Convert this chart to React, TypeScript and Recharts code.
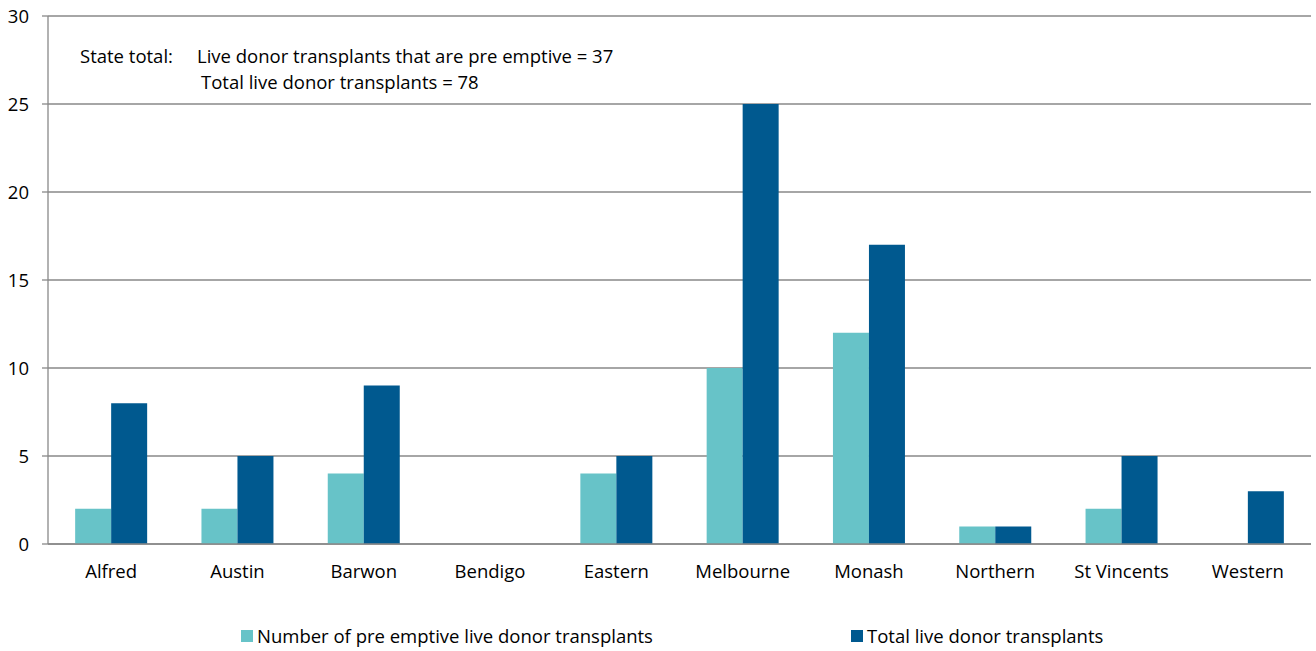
import React from 'react';
import { BarChart, Bar, XAxis, YAxis, CartesianGrid, Legend } from 'recharts';

const categories = ['Alfred', 'Austin', 'Barwon', 'Bendigo', 'Eastern', 'Melbourne', 'Monash', 'Northern', 'St Vincents', 'Western'];
const preEmptive = [2, 2, 4, 0, 4, 10, 12, 1, 2, 0];
const totalLive = [8, 5, 9, 0, 5, 25, 17, 1, 5, 3];
const yTicks = [0, 5, 10, 15, 20, 25, 30];
const edgeTicks = [0, 1, 2, 3, 4, 5, 6, 7, 8, 9, 10];

const data = categories.map((c, i) => ({ name: c, pre: preEmptive[i], total: totalLive[i], idx: i + 0.5 }));

const FONT = '"Open Sans", sans-serif';
const FS = 18.5;
const LIGHT = '#67C3C8';
const DARK = '#00598F';
const GRID = '#898989';

const legendItems = [
  { label: 'Number of pre emptive live donor transplants', color: LIGHT, left: 241 },
  { label: 'Total live donor transplants', color: DARK, left: 851 },
];

const LegendContent = () => (
  <div style={{ position: 'relative', width: 1316, height: 30, fontFamily: FONT, fontSize: FS, color: '#000' }}>
    {legendItems.map((it) => (
      <div key={it.label} style={{ position: 'absolute', left: it.left, top: 0, display: 'flex', alignItems: 'center', whiteSpace: 'nowrap', lineHeight: '22px' }}>
        <span style={{ display: 'inline-block', width: 12, height: 12, background: it.color, marginRight: 4 }} />
        <span>{it.label}</span>
      </div>
    ))}
  </div>
);

const txt: React.CSSProperties = { position: 'absolute', fontFamily: FONT, fontSize: FS, color: '#000', whiteSpace: 'nowrap', lineHeight: '26px' };

export default function App() {
  return (
    <div style={{ position: 'absolute', left: 0, top: 0, width: 1316, height: 651, background: '#fff' }}>
      <BarChart
        width={1316}
        height={651}
        data={data}
        margin={{ top: 16, right: 5, bottom: 77, left: 0 }}
        barCategoryGap="21.5%"
        barGap={0}
      >
        <CartesianGrid vertical={false} stroke={GRID} strokeWidth={1.3} />
        <XAxis
          xAxisId="edges"
          type="number"
          dataKey="idx"
          domain={[0, 10]}
          ticks={edgeTicks}
          tick={false}
          tickSize={6}
          height={0}
          axisLine={false}
          stroke={GRID}
          tickLine={{ stroke: GRID, strokeWidth: 1.3 }}
        />
        <XAxis
          dataKey="name"
          height={30}
          tickLine={false}
          tickSize={0}
          tickMargin={21}
          axisLine={{ stroke: GRID, strokeWidth: 1.3 }}
          tick={{ fill: '#000', fontSize: FS, fontFamily: FONT }}
          interval={0}
        />
        <YAxis
          domain={[0, 30]}
          ticks={yTicks}
          width={48}
          tickSize={6}
          tickMargin={13}
          axisLine={{ stroke: GRID, strokeWidth: 1.3 }}
          tickLine={{ stroke: GRID, strokeWidth: 1.3 }}
          tick={{ fill: '#000', fontSize: FS, fontFamily: FONT }}
        />
        <Legend
          layout="horizontal"
          verticalAlign="middle"
          align="center"
          content={<LegendContent />}
          wrapperStyle={{ position: 'absolute', left: 0, top: 625, width: 1316 }}
        />
        <Bar dataKey="pre" name="Number of pre emptive live donor transplants" fill={LIGHT} isAnimationActive={false} />
        <Bar dataKey="total" name="Total live donor transplants" fill={DARK} isAnimationActive={false} />
      </BarChart>
      <div style={{ ...txt, left: 80, top: 43 }}>State total:</div>
      <div style={{ ...txt, left: 197, top: 43 }}>Live donor transplants that are pre emptive = 37</div>
      <div style={{ ...txt, left: 201, top: 69 }}>Total live donor transplants = 78</div>
    </div>
  );
}
